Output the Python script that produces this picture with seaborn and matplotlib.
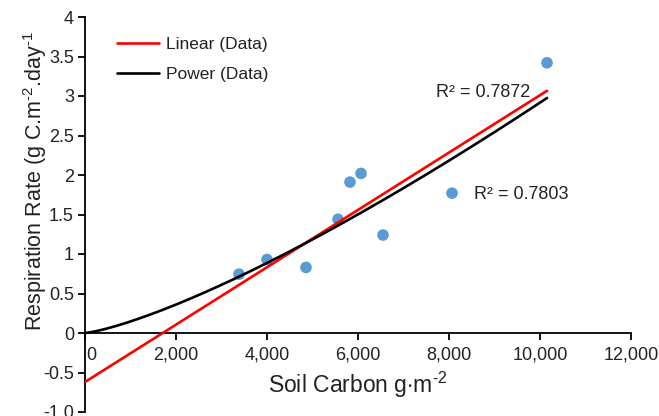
import numpy as np
import pandas as pd
import matplotlib
matplotlib.use("Agg")
import matplotlib.pyplot as plt
import matplotlib.transforms as mtransforms
import seaborn as sns

# ---- data ----
soil_carbon = [3385, 4000, 4857, 5560, 5824, 6066, 6550, 8066, 10154]
respiration = [0.745, 0.93, 0.83, 1.44, 1.91, 2.02, 1.24, 1.77, 3.42]

linear_slope = 3.63e-4
linear_intercept = -0.62
power_a = 1.84e-5
power_b = 1.30
r2_linear = "R² = 0.7872"
r2_power = "R² = 0.7803"

x_ticks = [0, 2000, 4000, 6000, 8000, 10000, 12000]
x_tick_labels = ["0", "2,000", "4,000", "6,000", "8,000", "10,000", "12,000"]
y_ticks = [-1.0, -0.5, 0, 0.5, 1, 1.5, 2, 2.5, 3, 3.5, 4]
y_tick_labels = ["-1.0", "-0.5", "0", "0.5", "1", "1.5", "2", "2.5", "3", "3.5", "4"]

sns.set_style("ticks")
plt.rcParams['font.family'] = ['Liberation Sans', 'DejaVu Sans']
plt.rcParams['mathtext.fontset'] = 'custom'
plt.rcParams['mathtext.rm'] = 'Liberation Sans'
plt.rcParams['mathtext.it'] = 'Liberation Sans'

fig = plt.figure(figsize=(6.59, 4.16), dpi=100)
ax = fig.add_axes([85/659, 1 - 412/416, (631-85)/659, (412-17)/416])

xfit = np.linspace(0, max(soil_carbon), 200)
fits = pd.DataFrame({
    "x": np.concatenate([xfit, xfit]),
    "y": np.concatenate([linear_slope * xfit + linear_intercept,
                         power_a * xfit ** power_b]),
    "fit": ["Linear (Data)"] * len(xfit) + ["Power (Data)"] * len(xfit),
})
pts = pd.DataFrame({"x": soil_carbon, "y": respiration})

sns.scatterplot(data=pts, x="x", y="y", ax=ax, color="#5B9BD5", s=70,
                edgecolor="none", zorder=3, legend=False)
sns.lineplot(data=fits, x="x", y="y", hue="fit", ax=ax,
             palette={"Linear (Data)": "#FF0000", "Power (Data)": "#000000"},
             linewidth=1.9, zorder=4)

ax.set_xlim(0, 12000)
ax.set_ylim(-1.0, 4.0)
ax.set_xticks(x_ticks)
ax.set_xticklabels(x_tick_labels)
ax.set_yticks(y_ticks)
ax.set_yticklabels(y_tick_labels)
ax.spines['bottom'].set_position(('data', 0))
ax.spines['top'].set_visible(False)
ax.spines['right'].set_visible(False)
for s in ['left', 'bottom']:
    ax.spines[s].set_linewidth(1.3)
    ax.spines[s].set_color("#000000")
ax.tick_params(axis='both', direction='out', length=5, width=1.3, colors="#000000",
               labelcolor="#222222", labelsize=13)
ax.tick_params(axis='x', pad=5)
ax.tick_params(axis='y', pad=3)
lbl0 = ax.get_xticklabels()[0]
lbl0.set_transform(lbl0.get_transform() +
                   mtransforms.ScaledTranslation(6/100, 0, fig.dpi_scale_trans))

ax.set_xlabel("Soil Carbon g$\\cdot$m$^{\\text{-2}}$", fontsize=16.5, color="#222222",
              va="center")
ax.xaxis.set_label_coords(0.5, (412-385)/395)
ax.set_ylabel("Respiration Rate (g C.m$^{\\text{-2}}$.day$^{\\text{-1}}$",
              fontsize=15.5, color="#222222")
ax.yaxis.set_label_coords(-0.066, 0.585)

ax.text(7714, 3.04, r2_linear, fontsize=13, color="#222222", ha="left", va="center")
ax.text(8550, 1.755, r2_power, fontsize=13, color="#222222", ha="left", va="center")

leg = ax.legend(loc="upper left", bbox_to_anchor=(0.03, 0.99), frameon=False,
                fontsize=12.5, handlelength=2.4, labelspacing=0.85, handletextpad=0.4)
for t in leg.get_texts():
    t.set_color("#222222")

fig.savefig("out.png", dpi=100)
